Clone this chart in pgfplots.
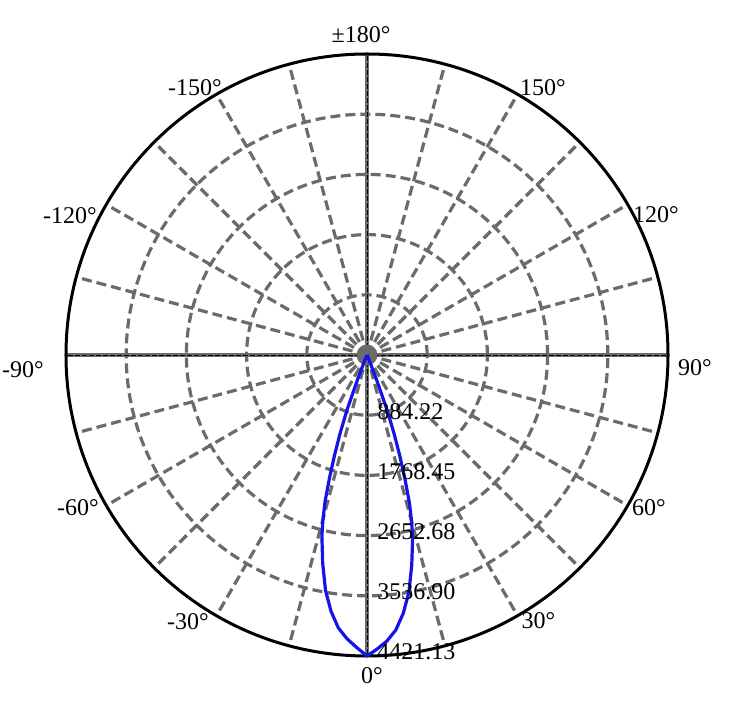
\documentclass[border=0pt]{standalone}
\usepackage{fontspec}
\setmainfont{Liberation Serif}
\usepackage{pgfplots}
\usepackage{pgfplotstable}
\pgfplotsset{compat=1.18}
\definecolor{gridgray}{rgb}{0.42,0.42,0.42}
\definecolor{curveblue}{rgb}{0.08,0.08,0.9}
\pgfplotstableread{
a I
-180 0
-120 0
-90 0
-60 0
-40 0
-30 5
-25 10
-23 40
-22 120
-21 400
-20 860
-19 1200
-18 1530
-17 1880
-16 2230
-15 2500
-14 2740
-12 3130
-10 3510
-8 3800
-6 4030
-4 4180
-2 4300
0 4421.13
2 4320
4 4210
6 4060
8 3830
10 3540
12 3160
14 2770
15 2530
16 2260
17 1910
18 1560
19 1220
20 880
21 420
22 130
23 40
25 10
30 5
40 0
60 0
90 0
120 0
180 0
}\curvedata
\begin{document}
\begin{tikzpicture}[font=\fontsize{12}{14}\selectfont]
\useasboundingbox (-183.5pt,-175pt) rectangle (190.5pt,177.5pt);
% rings
\foreach \r in {30.1,60.2,90.3,120.4}
  \draw[gridgray, line width=1.6pt, dash pattern=on 5pt off 2.5pt] (0,0) circle[radius=\r pt];
% spokes
\foreach \a in {15,30,45,60,75,105,120,135,150,165,195,210,225,240,255,285,300,315,330,345}
  \draw[gridgray, line width=1.6pt, dash pattern=on 5pt off 2.5pt] (0,0) -- (\a:150.5pt);
\foreach \a in {0,90,180,270}{
  \draw[gridgray, line width=1.6pt] (0,0) -- (\a:150.5pt);
  \draw[black, line width=0.45pt, dash pattern=on 2.5pt off 1pt] (0,0) -- (\a:150.5pt);
}
\fill[gridgray] (0,0) circle[radius=5.2pt];
\draw[black, line width=1.5pt] (0,0) circle[radius=150.5pt];
\begin{axis}[at={(0pt,0pt)}, anchor=origin, hide axis, scale only axis,
  width=301pt, height=301pt,
  xmin=-4421.13, xmax=4421.13, ymin=-4421.13, ymax=4421.13, clip=false]
\addplot[curveblue, line width=1.6pt, line join=round, mark=none]
  table[x expr={\thisrow{I}*sin(\thisrow{a})}, y expr={-\thisrow{I}*cos(\thisrow{a})}] {\curvedata};
\end{axis}
% radial labels
\foreach \r/\t in {30.1/884.22,60.2/1768.45,90.3/2652.68,120.4/3536.90,150.5/4421.13}
  \node[anchor=west, inner sep=0pt] at (5pt,-\r pt+2pt) {\t};
% angle labels
\node[inner sep=0pt] at (-3pt,160pt) {±180°};
\node[inner sep=0pt] at (-86pt,133.75pt) {-150°};
\node[inner sep=0pt] at (88pt,133.5pt) {150°};
\node[inner sep=0pt] at (-148.5pt,69.75pt) {-120°};
\node[inner sep=0pt] at (144.5pt,70pt) {120°};
\node[inner sep=0pt] at (-172pt,-7.25pt) {-90°};
\node[inner sep=0pt] at (164pt,-6.25pt) {90°};
\node[inner sep=0pt] at (-144.5pt,-76.5pt) {-60°};
\node[inner sep=0pt] at (140.9pt,-76.25pt) {60°};
\node[inner sep=0pt] at (-89.5pt,-133.5pt) {-30°};
\node[inner sep=0pt] at (85.75pt,-132.75pt) {30°};
\node[inner sep=0pt] at (2.5pt,-160.5pt) {0°};
\end{tikzpicture}
\end{document}
